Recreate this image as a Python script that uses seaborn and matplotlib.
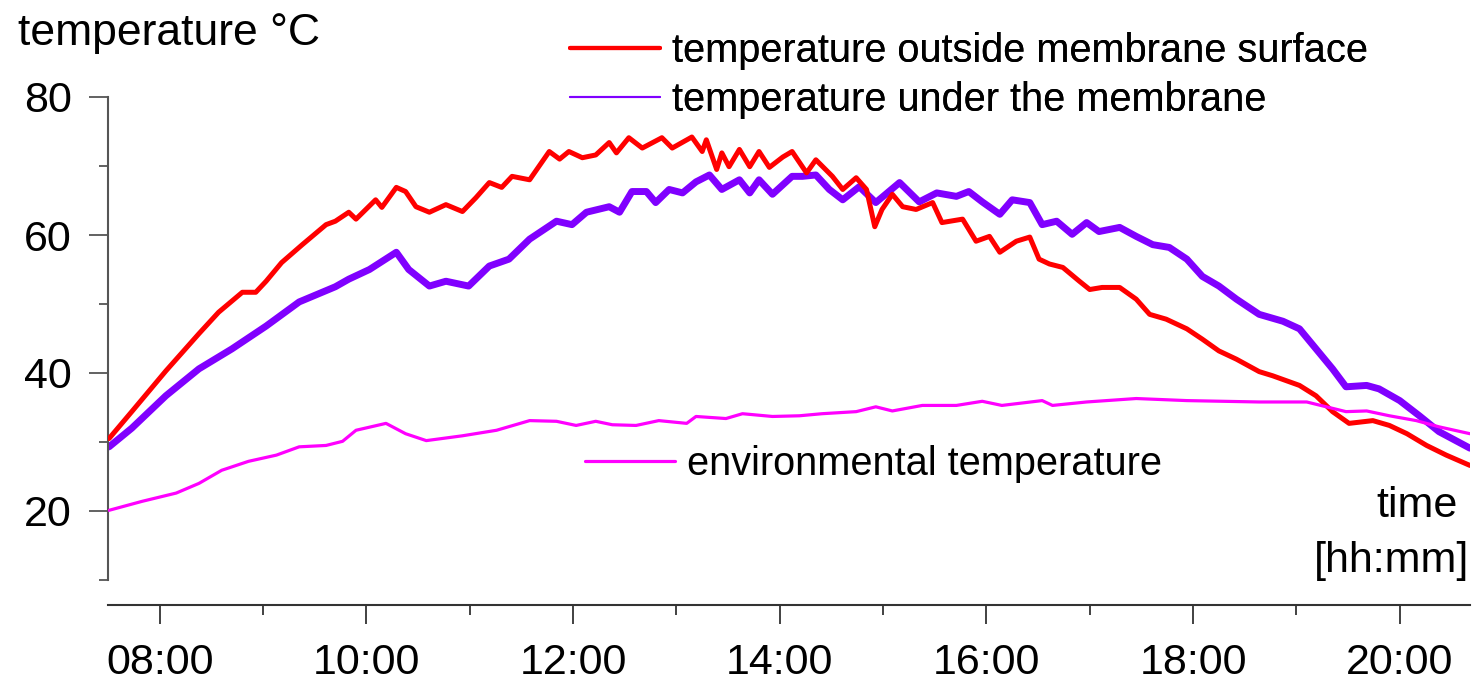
import matplotlib
matplotlib.use("Agg")
import matplotlib.pyplot as plt
from matplotlib.lines import Line2D
from matplotlib.ticker import MultipleLocator, FuncFormatter
import seaborn as sns

# ---- data (time in decimal hours, temperature in °C) ----
outside_t = [7.51, 7.73, 8.06, 8.38, 8.57, 8.80, 8.93, 9.03, 9.18, 9.38, 9.61, 9.70, 9.83, 9.90,
             10.09, 10.15, 10.29, 10.38, 10.48, 10.61, 10.77, 10.93, 11.06, 11.19, 11.31, 11.41,
             11.58, 11.77, 11.87, 11.96, 12.09, 12.22, 12.35, 12.42, 12.54, 12.67, 12.86, 12.96,
             13.15, 13.25, 13.29, 13.39, 13.44, 13.51, 13.61, 13.71, 13.80, 13.90, 14.03, 14.12,
             14.26, 14.35, 14.51, 14.61, 14.74, 14.84, 14.92, 14.99, 15.09, 15.19, 15.32, 15.48,
             15.57, 15.77, 15.90, 16.03, 16.13, 16.29, 16.42, 16.51, 16.61, 16.74, 16.90, 17.00,
             17.12, 17.29, 17.45, 17.58, 17.74, 17.94, 18.09, 18.25, 18.42, 18.64, 18.77, 19.03,
             19.19, 19.35, 19.51, 19.74, 19.90, 20.07, 20.26, 20.45, 20.68]
outside_v = [30.5, 34.4, 40.3, 45.7, 48.8, 51.7, 51.7, 53.3, 56.0, 58.6, 61.5, 62.0, 63.3, 62.3,
             65.1, 64.0, 66.9, 66.3, 64.1, 63.3, 64.4, 63.4, 65.4, 67.6, 66.9, 68.5,
             68.0, 72.1, 71.0, 72.1, 71.2, 71.6, 73.4, 71.9, 74.1, 72.6, 74.1, 72.6,
             74.2, 72.1, 73.8, 69.5, 71.9, 69.9, 72.4, 69.9, 72.1, 69.8, 71.3, 72.1,
             69.0, 70.9, 68.5, 66.6, 68.3, 66.6, 61.2, 63.7, 65.9, 64.1, 63.7, 64.7,
             61.8, 62.3, 59.1, 59.8, 57.5, 59.1, 59.7, 56.5, 55.8, 55.3, 53.3, 52.1,
             52.4, 52.4, 50.7, 48.5, 47.8, 46.4, 44.9, 43.2, 42.0, 40.2, 39.6, 38.2,
             36.7, 34.4, 32.7, 33.1, 32.4, 31.2, 29.5, 28.1, 26.6]

under_t = [7.51, 7.73, 8.06, 8.38, 8.70, 9.03, 9.35, 9.70, 9.83, 10.03, 10.29, 10.41, 10.61,
           10.77, 10.99, 11.19, 11.38, 11.58, 11.84, 11.99, 12.13, 12.35, 12.45, 12.57, 12.71,
           12.80, 12.93, 13.06, 13.19, 13.32, 13.44, 13.61, 13.71, 13.80, 13.93, 14.12, 14.22,
           14.35, 14.48, 14.61, 14.77, 14.93, 15.16, 15.35, 15.52, 15.71, 15.83, 15.96, 16.13,
           16.25, 16.42, 16.54, 16.68, 16.83, 16.97, 17.09, 17.29, 17.45, 17.61, 17.77, 17.94,
           18.09, 18.25, 18.42, 18.64, 18.87, 19.03, 19.19, 19.35, 19.48, 19.68, 19.80, 20.00,
           20.19, 20.38, 20.68]
under_v = [29.3, 32.0, 36.7, 40.6, 43.5, 46.8, 50.3, 52.5, 53.6, 55.0, 57.5, 55.0, 52.6,
           53.3, 52.6, 55.5, 56.5, 59.4, 62.0, 61.5, 63.3, 64.1, 63.3, 66.3, 66.3,
           64.7, 66.6, 66.1, 67.7, 68.7, 66.6, 68.0, 66.1, 68.0, 65.9, 68.5, 68.5,
           68.7, 66.6, 65.1, 67.0, 64.7, 67.6, 64.8, 66.1, 65.6, 66.3, 64.8, 63.0,
           65.1, 64.7, 61.5, 62.0, 60.1, 61.8, 60.5, 61.1, 59.8, 58.6, 58.2, 56.5,
           54.0, 52.6, 50.7, 48.5, 47.5, 46.4, 43.5, 40.6, 38.0, 38.2, 37.7, 36.0,
           33.8, 31.5, 29.1]

env_t = [7.51, 7.83, 8.16, 8.38, 8.60, 8.86, 9.13, 9.35, 9.61, 9.77, 9.90, 10.19, 10.38, 10.58,
         10.93, 11.26, 11.58, 11.84, 12.03, 12.22, 12.38, 12.61, 12.83, 13.10, 13.19, 13.48,
         13.64, 13.93, 14.19, 14.41, 14.74, 14.93, 15.09, 15.38, 15.71, 15.96, 16.15, 16.54,
         16.64, 16.97, 17.45, 17.94, 18.64, 19.10, 19.29, 19.48, 19.68, 19.90, 20.16, 20.38, 20.68]
env_v = [20.1, 21.4, 22.6, 24.0, 25.9, 27.2, 28.1, 29.3, 29.5, 30.1, 31.7, 32.7, 31.2, 30.2,
         30.9, 31.7, 33.1, 33.0, 32.4, 33.0, 32.5, 32.4, 33.1, 32.7, 33.7, 33.4,
         34.1, 33.7, 33.8, 34.1, 34.4, 35.1, 34.5, 35.3, 35.3, 35.9, 35.3, 36.0,
         35.3, 35.8, 36.3, 36.0, 35.8, 35.8, 35.1, 34.4, 34.5, 33.8, 33.1, 32.2, 31.2]

labels = ["temperature outside membrane surface",
          "temperature under the membrane",
          "environmental temperature"]
colors = ["#ff0000", "#8000ff", "#ff00ff"]
x_major = [8, 10, 12, 14, 16, 18, 20]
y_major = [20, 40, 60, 80]

# ---- style ----
sns.set_theme(style="ticks")
plt.rcParams["font.family"] = ["Liberation Sans", "DejaVu Sans"]
plt.rcParams["text.color"] = "black"

fig = plt.figure(figsize=(14.75, 6.83), dpi=100)
ax = fig.add_axes([108 / 1475, 103 / 683, 1362 / 1475, 483 / 683])

sns.lineplot(x=outside_t, y=outside_v, ax=ax, color=colors[0], linewidth=3.6,
             estimator=None, sort=False, legend=False)
sns.lineplot(x=under_t, y=under_v, ax=ax, color=colors[1], linewidth=5.0,
             estimator=None, sort=False, legend=False)
sns.lineplot(x=env_t, y=env_v, ax=ax, color=colors[2], linewidth=2.3,
             estimator=None, sort=False, legend=False)
ax.lines[1].set_zorder(2)
ax.lines[0].set_zorder(3)
ax.lines[2].set_zorder(4)

ax.set_xlim(7.5, 20.68)
ax.set_ylim(10, 80)
ax.set_xlabel("")
ax.set_ylabel("")

ax.set_xticks(x_major)
ax.xaxis.set_minor_locator(MultipleLocator(1))
ax.xaxis.set_major_formatter(FuncFormatter(lambda v, p: f"{int(round(v)):02d}:00"))
ax.set_yticks(y_major)
ax.yaxis.set_minor_locator(MultipleLocator(10))

for s in ["top", "right"]:
    ax.spines[s].set_visible(False)
ax.spines["left"].set_color("#555555")
ax.spines["left"].set_linewidth(1.5)
ax.spines["bottom"].set_color("#333333")
ax.spines["bottom"].set_linewidth(1.5)
ax.spines["bottom"].set_position(("outward", 18))

ax.tick_params(axis="y", which="major", direction="out", length=14, width=1.3,
               color="#555555", pad=12, labelsize=31, labelcolor="black")
ax.tick_params(axis="y", which="minor", direction="out", length=6.5, width=1.3,
               color="#555555")
ax.tick_params(axis="x", which="major", direction="out", length=14, width=1.3,
               color="#333333", pad=13, labelsize=31, labelcolor="black")
ax.tick_params(axis="x", which="minor", direction="out", length=7, width=1.3,
               color="#333333")

# ---- legends ----
h_top = [Line2D([], [], color=colors[0], lw=3.0),
         Line2D([], [], color=colors[1], lw=1.5)]
leg1 = fig.legend(h_top, labels[:2], loc="upper left",
                  bbox_to_anchor=(570 / 1475, 1 - 32 / 683), frameon=False,
                  fontsize=28.6, handlelength=2.27, handletextpad=0.3,
                  labelspacing=0.28, borderpad=0, borderaxespad=0,
                  labelcolor="black")
h_env = [Line2D([], [], color=colors[2], lw=2.3)]
leg2 = fig.legend(h_env, labels[2:], loc="upper left",
                  bbox_to_anchor=(585 / 1475, 1 - 445 / 683), frameon=False,
                  fontsize=28.6, handlelength=2.27, handletextpad=0.3,
                  borderpad=0, borderaxespad=0, labelcolor="black")
fig.add_artist(leg1)

# ---- axis titles ----
fig.text(18 / 1475, 1 - 45 / 683, "temperature °C", ha="left", va="baseline",
         fontsize=32, color="black")
fig.text(1458 / 1475, 1 - 517 / 683, "time", ha="right", va="baseline",
         fontsize=31, color="black")
fig.text(1469 / 1475, 1 - 572 / 683, "[hh:mm]", ha="right", va="baseline",
         fontsize=31, color="black")

fig.savefig("out.png", dpi=100, facecolor="white")
